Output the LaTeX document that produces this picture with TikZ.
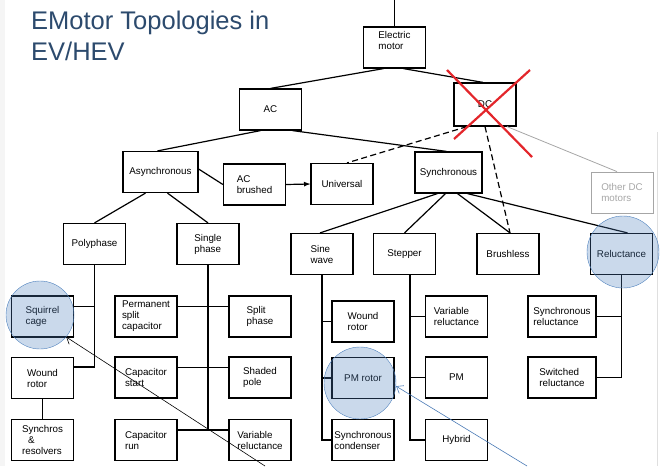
\documentclass[tikz,border=0pt]{standalone}
\usepackage{fontspec}
\setmainfont{Liberation Sans}
\usetikzlibrary{arrows,arrows.meta}

\definecolor{titleblue}{HTML}{2C4A6D}
\definecolor{circblue}{HTML}{4F81BD}
\definecolor{arrowblue}{HTML}{4A7AB5}
\definecolor{crossred}{HTML}{E3262B}
\definecolor{dcgray}{HTML}{A6A6A6}

\tikzset{
  link/.style={very thick},
  dlink/.style={very thick,dash pattern=on 6pt off 3.5pt},
  hilite/.style={circle,draw=circblue,fill=circblue,fill opacity=0.3,
    minimum size=70pt,inner sep=0},
  cross/.style={crossred,line width=2.2pt}
}

\begin{document}
\begin{tikzpicture}[x=1pt,y=-1pt,>={Straight Barb[length=6pt,width=9pt]}]
\useasboundingbox (0,0) rectangle (660,466);
\fill [gray!8] (0,0) rectangle (5,466);
\draw [gray!25] (657,132) -- (657,466);

\node [anchor=north west,inner sep=0,align=left,text=titleblue,
  font=\fontsize{25.5}{31}\selectfont] (title) at (31,11) {EMotor Topologies in\\EV/HEV};

\begin{scope}[every node/.style={rectangle,draw,very thick,inner sep=0,
  minimum width=62pt,minimum height=41pt,align=left,font=\fontsize{9.8}{11}\selectfont}]
    \node [text depth=14pt] (em) at (394.5,47.5) {Electric\\motor};
    \node (ac) at (270.5,109.5) {AC};
    \node [minimum height=43pt] (dc) at (485,104.5) {DC};
    \node [minimum width=75pt] (async) at (160.5,172) {Asynchronous};
    \node (acb) at (254.5,184.5) {AC\\brushed};
    \node (univ) at (342,184) {Universal};
    \node [minimum width=67pt] (sync) at (448.5,172.5) {Synchronous};
    \node [draw=dcgray,text=dcgray,thick] (odc) at (622,192.5) {Other DC\\motors};
    \node (poly) at (94.5,244) {Polyphase};
    \node (single) at (208,244) {Single\\phase};
    \node (sine) at (322,254) {Sine\\wave};
    \node (stepper) at (404.5,254) {Stepper};
    \node (brushless) at (508,254) {Brushless};
    \node (reluct) at (621.5,254) {Reluctance};
    \node (squirrel) at (42.5,316.5) {Squirrel\\cage};
    \node (woundA) at (42.5,378) {Wound\\rotor};
    \node (synchros) at (42.5,440) {Synchros\\\hspace*{6pt}\&\\resolvers};
    \node (psc) at (146,316.5) {Permanent\\split\\capacitor};
    \node (splitph) at (260,316.5) {Split\\phase};
    \node (capstart) at (146,377.5) {Capacitor\\start};
    \node (shaded) at (260,377.5) {Shaded\\pole};
    \node (caprun) at (146,440) {Capacitor\\run};
    \node (varrelA) at (260,440) {Variable\\reluctance};
    \node (woundB) at (363,321.5) {Wound\\rotor};
    \node (pmrotor) at (363,378) {PM rotor};
    \node (synccond) at (363,440) {Synchronous\\condenser};
    \node (varrelB) at (456.5,316.5) {Variable\\reluctance};
    \node (pm) at (456.5,377.5) {PM};
    \node (hybrid) at (456.5,440) {Hybrid};
    \node [minimum width=68pt] (syncrel) at (562,316.5) {Synchronous\\reluctance};
    \node [minimum width=68pt] (switched) at (562,377.5) {Switched\\reluctance};
\end{scope}

\coordinate (top) at (394.5,0);
\coordinate (stepbus) at ([xshift=5.5pt]stepper.south);
\coordinate (footA) at (265,466);
\coordinate (footB) at (527,466);

% upper tree
\draw [link] (em.north) -- (top);
\draw [link] ([xshift=-11pt]em.south) -- (ac.north);
\draw [link] ([xshift=9pt]em.south) -- ([xshift=-2pt]dc.north);
\draw [link] ([xshift=-10pt]ac.south) -- ([xshift=-3pt]async.north);
\draw [link] ([xshift=22pt]ac.south) -- ([xshift=-2pt]sync.north);
\draw [link] ([yshift=3pt]async.east) -- (acb.west);
\draw [link,-latex] (acb.east) -- (univ.west);
\draw [dlink] ([xshift=-18pt]dc.south) -- ([xshift=5pt]univ.north);
\draw [dlink] (dc.south) -- ([xshift=2pt]brushless.north);
\draw [thick,dcgray] ([xshift=22pt]dc.south) -- ([xshift=-5pt]odc.north);
\draw [link] ([xshift=-15pt]async.south) -- (poly.north);
\draw [link] ([xshift=7pt]async.south) -- (single.north);
\draw [link] ([xshift=-11pt]sync.south) -- ([xshift=-2pt]sine.north);
\draw [link] ([xshift=-3pt]sync.south) -- (stepper.north);
\draw [link] ([xshift=9pt]sync.south) -- ([xshift=2pt]brushless.north);
\draw [link] ([xshift=19pt]sync.south) -- ([xshift=6pt]reluct.north);

% branches
\draw [link] (poly.south) |- ([yshift=11pt]woundA.east);
\draw [link] ([yshift=10pt]squirrel.east) -| (poly.south);
\draw [link] (woundA.south) -- (synchros.north);
\draw [link] (single.south) |- ([yshift=10pt]caprun.east);
\foreach \a/\b in {psc/splitph,capstart/shaded,caprun/varrelA}
    \draw [link] ([yshift=10pt]\a.east) -- ([yshift=10pt]\b.west);
\draw [link] (sine.south) |- (synccond.west);
\foreach \b in {woundB,pmrotor}
    \draw [link] (sine.south |- \b.west) -- (\b.west);
\draw [link] (stepbus) |- (hybrid.west);
\foreach \b in {varrelB,pm}
    \draw [link] (stepbus |- \b.west) -- (\b.west);
\draw [link] (reluct.south) |- (switched.east);
\draw [link] (syncrel.east) -| (reluct.south);

% crossed out DC
\draw [cross] (447,70) -- (532,157);
\draw [cross] (530,70) -- (454,139);

% highlights
\node [hilite,minimum size=68pt] (hlA) at (40,315) {};
\node [hilite,minimum size=72pt] (hlB) at (360,383) {};
\node [hilite,minimum size=72pt] (hlC) at (623,252) {};
\draw [->,semithick] (footA) -- (hlA.-40);
\draw [->,semithick,arrowblue] (footB) -- (hlB.-5);
\end{tikzpicture}
\end{document}
